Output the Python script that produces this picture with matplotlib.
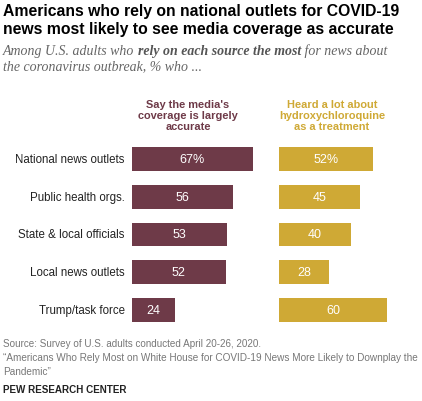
import matplotlib
matplotlib.use("Agg")
import matplotlib.pyplot as plt

W, H = 422, 402

categorias = ["National news outlets", "Public health orgs.", "State & local officials",
              "Local news outlets", "Trump/task force"]
precisa = [67, 56, 53, 52, 24]
hidroxi = [52, 45, 40, 28, 60]
etiquetas_precisa = ["67%", "56", "53", "52", "24"]
etiquetas_hidroxi = ["52%", "45", "40", "28", "60"]

GRANATE = "#6e3a48"
DORADO = "#cfa935"
PX_UNIDAD = 1.8  # pixeles por punto porcentual

fig = plt.figure(figsize=(W / 100, H / 100), dpi=100)
fig.patch.set_facecolor("white")


def px(x, y):
    # pixeles (desde arriba a la izquierda) -> fraccion de figura
    return x / W, 1 - y / H


def ejes(x0, ancho):
    top, bot = 141.0, 330.0
    ax = fig.add_axes([x0 / W, 1 - bot / H, ancho / W, (bot - top) / H])
    ax.set_xlim(0, ancho / PX_UNIDAD)
    ax.set_ylim(len(categorias) - 0.5, -0.5)
    ax.axis("off")
    return ax


ax1 = ejes(132, 140)
ax2 = ejes(279, 140)

for ax, vals, etq, color in [(ax1, precisa, etiquetas_precisa, GRANATE),
                             (ax2, hidroxi, etiquetas_hidroxi, DORADO)]:
    barras = ax.barh(range(len(categorias)), vals, height=0.63, color=color)
    for b, t in zip(barras, etq):
        ax.text(b.get_width() / 2, b.get_y() + b.get_height() / 2, t,
                ha="center", va="center", color="white", fontsize=9,
                family="Liberation Sans")

for i, c in enumerate(categorias):
    ax1.text(-4, i, c, ha="right", va="center", fontsize=8.3, color="#222222",
             family="Liberation Sans")

# titulo
fig.text(*px(3, 16), "Americans who rely on national outlets for COVID-19",
         fontsize=11.3, fontweight="bold", family="Liberation Sans", color="black")
fig.text(*px(3, 34), "news most likely to see media coverage as accurate",
         fontsize=11.3, fontweight="bold", family="Liberation Sans", color="black")

# subtitulo (partes en cursiva normal y negrita)
fig.canvas.draw()
r = fig.canvas.get_renderer()
x_px = 3
for trozo, peso, col in [("Among U.S. adults who ", "normal", "#666666"),
                         ("rely on each source the most", "bold", "#555555"),
                         (" for news about", "normal", "#666666")]:
    t = fig.text(x_px / W, 1 - 55 / H, trozo, fontsize=10, style="italic",
                 fontweight=peso, family="Liberation Serif", color=col)
    x_px = t.get_window_extent(r).x1
fig.text(*px(3, 70), "the coronavirus outbreak, % who ...", fontsize=10,
         style="italic", family="Liberation Serif", color="#666666")

# encabezados de columnas
fig.text(*px(188, 116), "Say the media's\ncoverage is largely\naccurate", ha="center",
         va="center", fontsize=7.9, fontweight="bold", family="Liberation Sans",
         color=GRANATE, linespacing=1.15)
fig.text(*px(332, 116), "Heard a lot about\nhydroxychloroquine\nas a treatment", ha="center",
         va="center", fontsize=7.9, fontweight="bold", family="Liberation Sans",
         color=DORADO, linespacing=1.15)

# notas
fig.text(*px(3, 347), "Source: Survey of U.S. adults conducted April 20-26, 2020.",
         fontsize=7.1, family="Liberation Sans", color="#777777")
fig.text(*px(3, 361), "\u201cAmericans Who Rely Most on White House for COVID-19 News More Likely to Downplay the",
         fontsize=7.2, family="Liberation Sans", color="#777777")
fig.text(*px(3, 375), "Pandemic\u201d", fontsize=7.2, family="Liberation Sans", color="#777777")
fig.text(*px(3, 393), "PEW RESEARCH CENTER", fontsize=7.1, fontweight="bold",
         family="Liberation Sans", color="#222222")

fig.savefig("out.png", dpi=100, facecolor="white")
